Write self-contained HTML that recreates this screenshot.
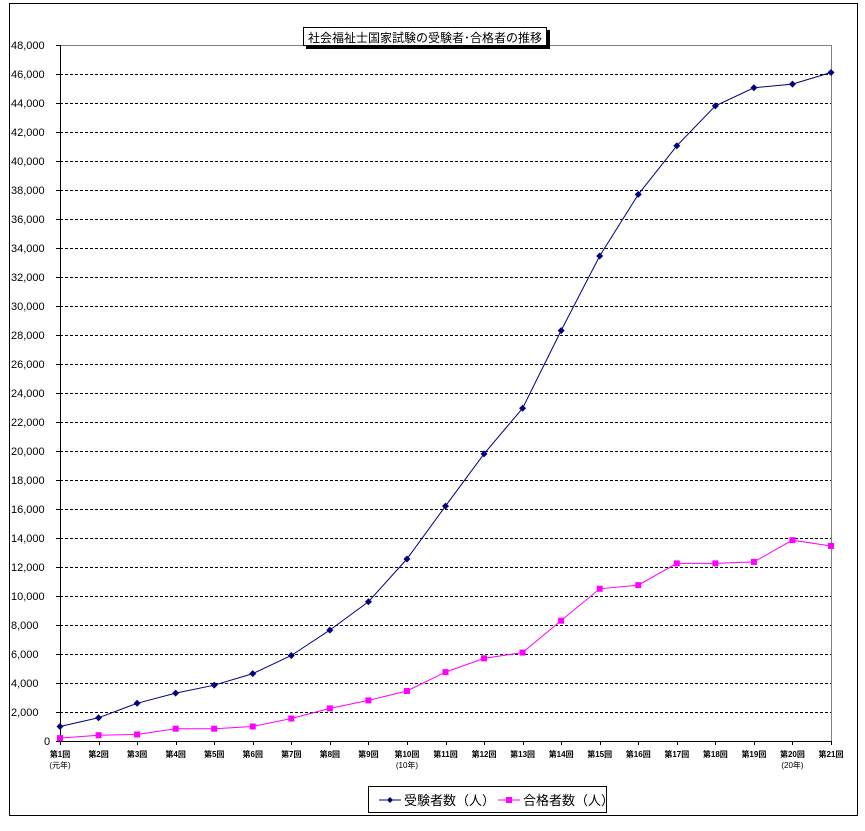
<!DOCTYPE html>
<html><head><meta charset="utf-8"><style>
html,body{margin:0;padding:0;background:#fff;}
svg text{font-family:"Liberation Sans","Noto Sans CJK JP",sans-serif;}
</style></head><body>
<svg id="s" width="865" height="826" xmlns="http://www.w3.org/2000/svg"></svg>
<script>
const s=document.getElementById('s');
let h='';
h+='<rect x="9.5" y="3.5" width="848" height="812" fill="#fff" stroke="#000" stroke-width="1"/>';
const L=60,T=45,R=831,B=741;
const yv=v=>B-(v/48000)*(B-T);
for(let v=2000;v<48000;v+=2000){const y=Math.round(yv(v))+0.5;h+=`<line x1="${L}" y1="${y}" x2="${R}" y2="${y}" stroke="#000" stroke-dasharray="3,2"/>`;}
h+=`<line x1="${L}" y1="${T+.5}" x2="${R+.5}" y2="${T+.5}" stroke="#808080"/><line x1="${R+.5}" y1="${T}" x2="${R+.5}" y2="${B}" stroke="#808080"/>`;
h+=`<line x1="${L+.5}" y1="${T}" x2="${L+.5}" y2="${B}" stroke="#000"/><line x1="${L}" y1="${B+.5}" x2="${R+1}" y2="${B+.5}" stroke="#000"/>`;
for(let v=0;v<=48000;v+=2000){const y=yv(v);h+=`<line x1="${L-4}" y1="${Math.round(y)+.5}" x2="${L}" y2="${Math.round(y)+.5}" stroke="#000"/>`;
h+=`<text x="${v==0?44:11}" y="${y+4}" font-size="11" fill="#000">${v==0?'0':v.toLocaleString('en-US')}</text>`;}
const st=(R-L)/20;
for(let i=0;i<=20;i++){const x=Math.round(L+i*st)+.5;h+=`<line x1="${x}" y1="${B}" x2="${x}" y2="${B+4}" stroke="#000"/>`;
h+=`<text x="${L+i*st}" y="${B+16}" font-size="8" font-weight="bold" text-anchor="middle">第${i+1}回</text>`;}
h+=`<text x="${L}" y="${B+27}" font-size="8" text-anchor="middle">(元年)</text>`;
h+=`<text x="${L+9*st}" y="${B+27}" font-size="8" text-anchor="middle">(10年)</text>`;
h+=`<text x="${L+19*st}" y="${B+27}" font-size="8" text-anchor="middle">(20年)</text>`;
const a=[1000,1600,2600,3300,3850,4650,5900,7650,9600,12550,16200,19800,22950,28300,33450,37700,41050,43800,45050,45300,46100];
const b=[200,400,450,850,850,1000,1550,2250,2800,3450,4750,5700,6100,8300,10500,10750,12250,12250,12350,13850,13450];
function line(d,c){return `<polyline fill="none" stroke="${c}" stroke-width="1" points="${d.map((v,i)=>(L+i*st).toFixed(1)+','+yv(v).toFixed(1)).join(' ')}"/>`;}
h+=line(b,'#ff00ff');h+=line(a,'#000080');
b.forEach((v,i)=>{h+=`<rect x="${L+i*st-3}" y="${yv(v)-3}" width="6" height="6" fill="#ff00ff"/>`;});
a.forEach((v,i)=>{const x=L+i*st,y=yv(v);h+=`<polygon points="${x},${y-3.5} ${x+3.5},${y} ${x},${y+3.5} ${x-3.5},${y}" fill="#000080"/>`;});
// title
h+='<rect x="306" y="30" width="244" height="19" fill="#000"/><rect x="303.5" y="27.5" width="243" height="18" fill="#fff" stroke="#000"/>';
h+='<text x="425" y="42" font-size="12" text-anchor="middle">社会福祉士国家試験の受験者･合格者の推移</text>';
// legend
h+='<rect x="368.5" y="786.5" width="238" height="26" fill="#fff" stroke="#000"/>';
h+='<line x1="379" y1="800" x2="401" y2="800" stroke="#000080"/><polygon points="390,797 393,800 390,803 387,800" fill="#000080"/>';
h+='<text x="404" y="805" font-size="13">受験者数（人）</text>';
h+='<line x1="498" y1="800" x2="520" y2="800" stroke="#ff00ff"/><rect x="506" y="797" width="6" height="6" fill="#ff00ff"/>';
h+='<text x="523" y="805" font-size="13">合格者数（人）</text>';
s.innerHTML=h;
</script>
</body></html>
